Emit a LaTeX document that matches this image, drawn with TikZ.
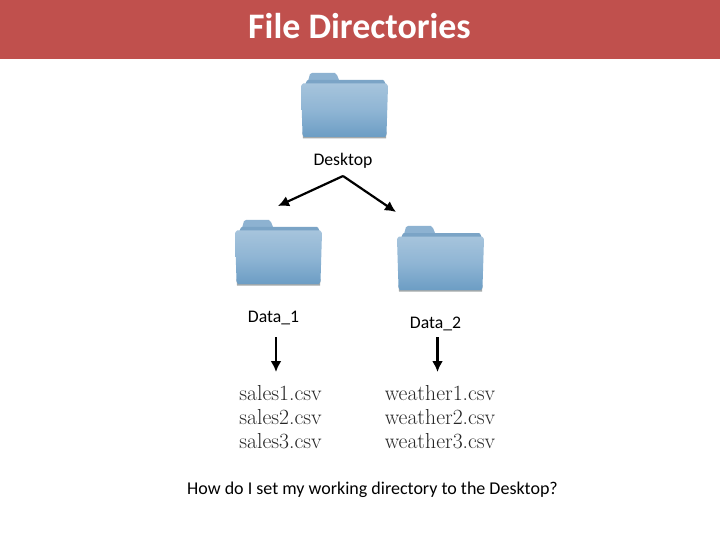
\documentclass[tikz,border=0pt]{standalone}
\usepackage{fontspec}
\setmainfont{Carlito}
\newfontfamily\cmfont{Latin Modern Roman}
\definecolor{bar}{HTML}{C0504D}
\definecolor{fback}{HTML}{7BA4C6}
\definecolor{ftab}{HTML}{8DB2D1}
\definecolor{ftop}{HTML}{A6C4DC}
\definecolor{fmid}{HTML}{8FB5D4}
\definecolor{fbot}{HTML}{6C9DC4}
\definecolor{fedge}{HTML}{A4A9AA}
\tikzset{
  x=1pt,y=-1pt,
  lbl/.style={font=\fontsize{17.7}{20}\selectfont,text=black,inner sep=0pt,anchor=center},
  filetxt/.style={font=\cmfont\fontsize{21.7}{24}\selectfont,text=black!85,inner sep=0pt,align=left,anchor=center},
  conn/.style={draw=black,line width=2.2pt,-{Latex[length=11pt,width=11pt]}},
  folder/.pic={
    \fill[ftab] (7,9) -- (9,2) to[out=-80,in=180] (11,1) -- (34,1) to[out=0,in=-120] (36,3) -- (38,8) -- (38,12) -- (7,12) -- cycle;
    \fill[fback] (4,12) to[out=-70,in=180] (7,8) -- (82,8) to[out=0,in=-110] (85,12) -- (85,16) -- (4,16) -- cycle;
    \fill[fedge] (1.5,60) -- (85.5,60) -- (85,66.5) -- (2,66.5) -- cycle;
    \shade[top color=ftop,bottom color=fbot,middle color=fmid]
      (0,14) to[out=-90,in=180] (2,11.5) -- (85,11.5) to[out=0,in=-90] (87,14) -- (85.5,62) to[out=90,in=0] (84,65) -- (3,65) to[out=180,in=90] (1.5,62) -- cycle;
  }
}
\usetikzlibrary{arrows.meta}
\begin{document}
\begin{tikzpicture}
\useasboundingbox (0,0) rectangle (720,540);
\fill[white] (0,0) rectangle (720,540);
\fill[bar] (0,0) rectangle (720,59);
\node[font=\bfseries\fontsize{35.9}{38}\selectfont,text=white,inner sep=0pt] (title) at (359.5,26.5) {File Directories};
\pic at (301,72) {folder};
\pic at (235,219) {folder};
\pic at (397,225) {folder};
\node[lbl] (desktop) at (343,161) {Desktop};
\node[lbl] (data1) at (273.5,317.5) {Data\_1};
\node[lbl] (data2) at (435.5,323.5) {Data\_2};
\coordinate (apex) at (343,176);
\coordinate (tipl) at (278,206);
\coordinate (tipr) at (396,212);
\coordinate (d1from) at (276,337);
\coordinate (d1to) at (276,372);
\coordinate (d2from) at (437.5,337);
\coordinate (d2to) at (437.5,372);
\draw[conn] (apex) -- (tipl);
\draw[conn] (apex) -- (tipr);
\draw[conn] (d1from) -- (d1to);
\draw[conn] (d2from) -- (d2to);
\node[filetxt] (sales) at (280.5,417) {sales1.csv\\sales2.csv\\sales3.csv};
\node[filetxt] (weather) at (440,417) {weather1.csv\\weather2.csv\\weather3.csv};
\node[lbl,font=\fontsize{18}{20}\selectfont] (question) at (372.5,489.5) {How do I set my working directory to the Desktop?};
\end{tikzpicture}
\end{document}
